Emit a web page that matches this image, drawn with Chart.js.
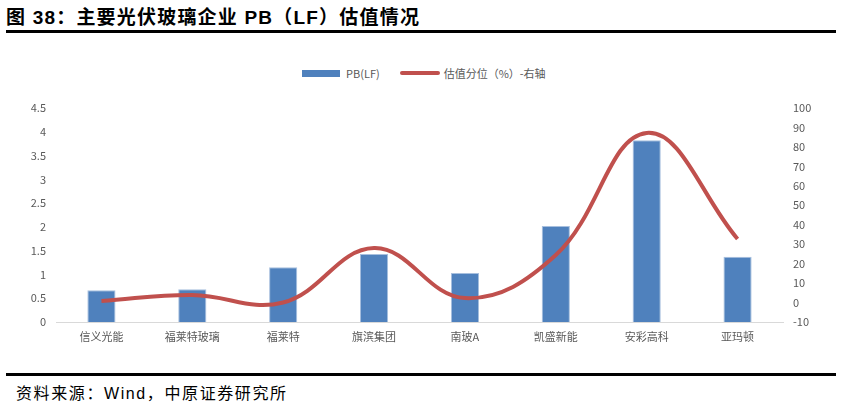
<!DOCTYPE html>
<html>
<head>
<meta charset="utf-8">
<script src="https://cdn.jsdelivr.net/npm/chart.js@4"></script>
<style>
  body { margin: 0; width: 842px; height: 406px; background: #fff; position: relative; overflow: hidden;
         font-family: "Liberation Sans", "Noto Sans CJK SC", sans-serif; }
  #titulo { position: absolute; left: 6px; top: 2px; font-size: 19px; font-weight: bold; color: #000; letter-spacing: 1.2px; }
  .regla { position: absolute; left: 6px; width: 830px; height: 3px; background: #000; }
  #fuente { position: absolute; left: 16px; top: 380px; font-size: 16px; color: #000; letter-spacing: 1.6px; }
  #leyenda { position: absolute; top: 65px; left: 302px; font-size: 11px; color: #595959; display: flex; align-items: center;
             font-family: "Noto Sans CJK SC", sans-serif; }
  .cajaBarra { width: 38px; height: 7px; background: #4f81bd; margin-right: 6px; }
  .cajaLinea { width: 40px; height: 4px; background: #c0504d; border-radius: 2px; margin-left: 20px; margin-right: 4px; }
  #lienzo { position: absolute; left: 0; top: 40px; }
</style>
</head>
<body>
<div id="titulo">图 38：主要光伏玻璃企业 PB（LF）估值情况</div>
<div class="regla" style="top:30px"></div>
<div id="leyenda">
  <div class="cajaBarra"></div><span>PB(LF)</span>
  <div class="cajaLinea"></div><span>估值分位（%）-右轴</span>
</div>
<canvas id="lienzo" width="842" height="320"></canvas>
<div class="regla" style="top:373px"></div>
<div id="fuente">资料来源：Wind，中原证券研究所</div>
<script>
const empresas = ["信义光能", "福莱特玻璃", "福莱特", "旗滨集团", "南玻A", "凯盛新能", "安彩高科", "亚玛顿"];
const valoresPB = [0.67, 0.69, 1.15, 1.43, 1.03, 2.02, 3.82, 1.37];
const percentiles = [0.8, 3.9, 0, 28, 2.3, 24.4, 87.2, 32.7];

const textoColor = "#595959";
const fuenteTicks = { family: "'Noto Sans CJK SC', sans-serif", size: 11 };

new Chart(document.getElementById("lienzo"), {
  type: "bar",
  data: {
    labels: empresas,
    datasets: [
      {
        type: "line",
        label: "估值分位（%）-右轴",
        data: percentiles,
        yAxisID: "yDer",
        borderColor: "#c0504d",
        borderWidth: 4,
        pointRadius: 0,
        tension: 0.4,
        fill: false,
        order: 0
      },
      {
        label: "PB(LF)",
        data: valoresPB,
        yAxisID: "yIzq",
        backgroundColor: "#4f81bd",
        borderColor: "#a7bfde",
        borderWidth: 1,
        barPercentage: 0.62,
        categoryPercentage: 0.5,
        order: 1
      }
    ]
  },
  options: {
    responsive: false,
    animation: false,
    layout: { padding: { top: 68 } },
    plugins: { legend: { display: false }, tooltip: { enabled: false } },
    scales: {
      x: {
        grid: { display: false, drawTicks: false },
        border: { color: "#d9d9d9", width: 1 },
        ticks: { color: textoColor, font: fuenteTicks, padding: 8 },
        afterFit: (s) => { s.height = 38; }
      },
      yIzq: {
        position: "left",
        min: 0, max: 4.5,
        grid: { display: false, drawTicks: false },
        border: { display: false },
        ticks: { stepSize: 0.5, color: textoColor, font: fuenteTicks, padding: 10, callback: (v) => String(v) },
        afterFit: (s) => { s.width = 56; }
      },
      yDer: {
        position: "right",
        min: -10, max: 100,
        grid: { display: false, drawTicks: false },
        border: { display: false },
        ticks: { stepSize: 10, color: textoColor, font: fuenteTicks, padding: 10 },
        afterFit: (s) => { s.width = 59; }
      }
    }
  }
});
</script>
</body>
</html>
